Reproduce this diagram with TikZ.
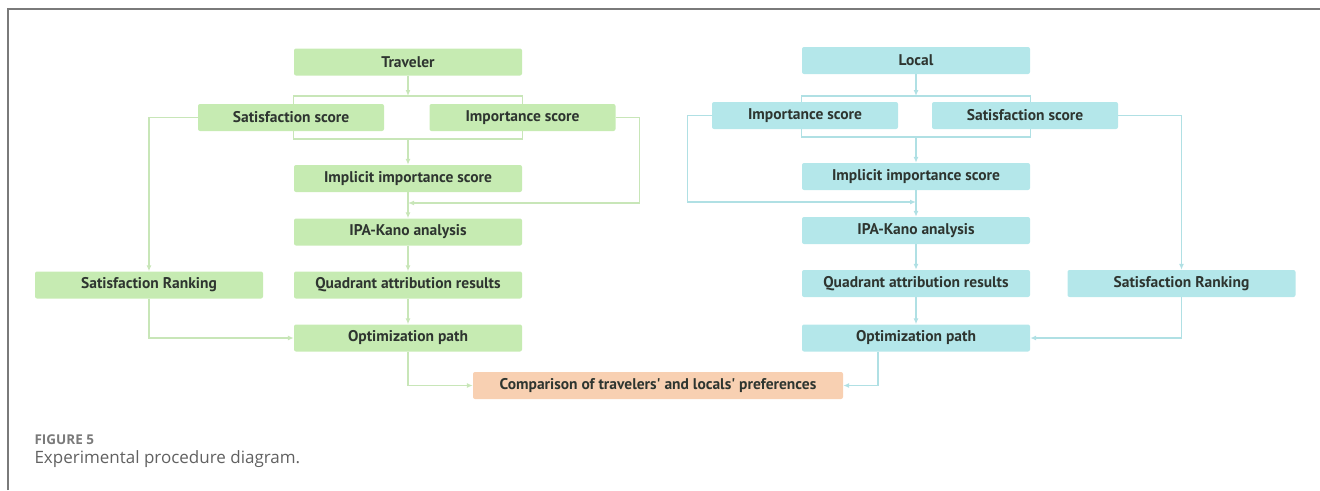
\documentclass[tikz,border=0pt]{standalone}
\usepackage{fontspec}
\setmainfont{PT Sans}
\newfontfamily\capfont{Open Sans}
\usepackage{tikz}
\usetikzlibrary{arrows.meta,positioning,calc}
\definecolor{trvfill}{HTML}{C6EBB2}
\definecolor{trvline}{HTML}{C8E6B8}
\definecolor{locfill}{HTML}{B4E7EA}
\definecolor{locline}{HTML}{B0E0E4}
\definecolor{cmpfill}{HTML}{F8D0B2}
\definecolor{boxtext}{HTML}{2E3530}
\definecolor{framegray}{HTML}{7A7A7A}
\tikzset{%
	trvbox/.style = {fill=trvfill, rounded corners=2pt, minimum width=228pt, minimum height=27pt, text centered, text=boxtext, font=\bfseries\fontsize{15.5}{17}\selectfont},
	locbox/.style = {trvbox, fill=locfill},
	cmpbox/.style = {trvbox, fill=cmpfill, minimum width=370pt},
	halfbox/.style = {minimum width=186pt},
	trvarrow/.style = {draw=trvline, line width=1.2pt, -{Latex[length=6pt,width=5pt]}},
	locarrow/.style = {draw=locline, line width=1.2pt, -{Latex[length=6pt,width=5pt]}},
	trvwire/.style = {draw=trvline, line width=1.2pt},
	locwire/.style = {draw=locline, line width=1.2pt},
}

\begin{document}
\begin{tikzpicture}[x=1pt,y=-1pt]
	\useasboundingbox (0,0) rectangle (1320,490);
	\draw[framegray, line width=1.5pt] (8,490) -- (8,9) -- (1320,9);
	
	% traveler side
	\node[trvbox] (trav) at (408,62) {Traveler};
	\node[trvbox,halfbox] (tsat) at (291,117.5) {Satisfaction score};
	\node[trvbox,halfbox] (timp) at (522.5,117.5) {Importance score};
	\node[trvbox] (timpl) at (408,178.5) {Implicit importance score};
	\node[trvbox] (tipa) at (408,232) {IPA-Kano analysis};
	\node[trvbox] (trank) at (149,285) {Satisfaction Ranking};
	\node[trvbox] (tquad) at (408,285) {Quadrant attribution results};
	\node[trvbox] (topt) at (408,338) {Optimization path};
	
	% local side
	\node[locbox] (loc) at (916,60.5) {Local};
	\node[locbox,halfbox] (limp) at (805,115.5) {Importance score};
	\node[locbox,halfbox] (lsat) at (1025,115.5) {Satisfaction score};
	\node[locbox] (limpl) at (916,176.5) {Implicit importance score};
	\node[locbox] (lipa) at (916,230.5) {IPA-Kano analysis};
	\node[locbox] (lquad) at (916,283.5) {Quadrant attribution results};
	\node[locbox] (lrank) at (1181.5,283.5) {Satisfaction Ranking};
	\node[locbox] (lopt) at (916,338) {Optimization path};
	
	\node[cmpbox] (cmp) at (658,385.5) {Comparison of travelers\textquotesingle{} and locals\textquotesingle{} preferences};
	
	% traveler connectors
	\coordinate (ttop) at (408,96);
	\coordinate (tbot) at (408,139);
	\coordinate (tjoin) at (408,203);
	\draw[trvarrow] (trav) -- (ttop);
	\draw[trvwire] (trav.west |- tsat.north) |- (ttop) -| (trav.east |- timp.north);
	\draw[trvwire] (trav.west |- tsat.south) |- (tbot) -| (trav.east |- timp.south);
	\draw[trvarrow] (tbot) -- (timpl);
	\draw[trvarrow] (timp.east) -- ++(24,0) |- (tjoin);
	\draw[trvarrow] (timpl) -- (tipa);
	\draw[trvarrow] (tipa) -- (tquad);
	\draw[trvarrow] (tquad) -- (topt);
	\draw[trvarrow] (tsat.west) -| (trank.north);
	\draw[trvarrow] (trank.south) |- (topt.west);
	\draw[trvarrow] (topt.south) |- (cmp.west);
	
	% local connectors
	\coordinate (ltop) at (916,96);
	\coordinate (lbot) at (916,137);
	\coordinate (ljoin) at (916,202);
	\draw[locarrow] (loc) -- (ltop);
	\draw[locwire] (loc.west |- limp.north) |- (ltop) -| (loc.east |- lsat.north);
	\draw[locwire] (loc.west |- limp.south) |- (lbot) -| (loc.east |- lsat.south);
	\draw[locarrow] (lbot) -- (limpl);
	\draw[locarrow] (limp.west) -- ++(-24,0) |- (ljoin);
	\draw[locarrow] (limpl) -- (lipa);
	\draw[locarrow] (lipa) -- (lquad);
	\draw[locarrow] (lquad) -- (lopt);
	\draw[locarrow] (lsat.east) -| (lrank.north);
	\draw[locarrow] (lrank.south) |- (lopt.east);
	\draw[locarrow] ([xshift=-38pt]lopt.south) |- (cmp.east);
	
	% caption
	\node[anchor=west, text=framegray, font=\capfont\bfseries\fontsize{13.5}{15}\selectfont] (figno) at (31,440) {FIGURE 5};
	\node[anchor=west, text=black!62, font=\capfont\fontsize{17}{19}\selectfont] (figcap) at (31,459) {Experimental procedure diagram.};
\end{tikzpicture}
\end{document}
